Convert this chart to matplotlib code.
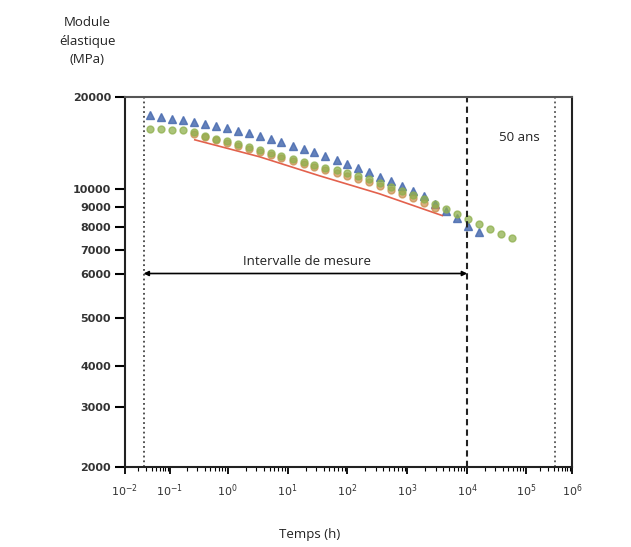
import numpy as np
import matplotlib
matplotlib.use("Agg")
import matplotlib.pyplot as plt
from matplotlib.ticker import FixedLocator, LogLocator, NullFormatter

# time (h) of each measurement point
t = [0.036, 0.063, 0.108, 0.167, 0.26, 0.40, 0.62, 0.96, 1.47, 2.24, 3.4, 5.2,
     7.9, 12.1, 18.5, 28, 43, 66, 100, 152, 233, 355, 541, 826, 1260, 1920,
     2930, 4470, 6810, 10400, 15800, 24500, 38000, 58000]

# elastic modulus (MPa)
blue = [17460, 17200, 16940, 16820, 16570, 16320, 16070, 15830, 15480, 15250,
        14910, 14570, 14250, 13830, 13520, 13210, 12820, 12440, 12070, 11710,
        11360, 10950, 10620, 10230, 9880, 9600, 9160, 8790, 8440, 8050, 7770]
green = [15720, 15720, 15600, 15600, 15360, 14910, 14570, 14360, 14040, 13720,
         13410, 13110, 12820, 12530, 12250, 11980, 11710, 11540, 11280, 11030,
         10780, 10460, 10150, 9884, 9655, 9431, 9160, 8895, 8637, 8386, 8143,
         7909, 7683, 7506]
orange = [15130, 14800, 14470, 14150, 13830, 13520, 13210, 12920, 12630, 12350,
          12070, 11800, 11540, 11280, 11030, 10780, 10540, 10230, 9942, 9711,
          9490, 9213, 8947]
fit_t = [0.27, 3.4, 34, 341, 3830]
fit_e = [14470, 12730, 11030, 9710, 8540]

t_start = 0.026      # start of measurement
t_end = 1e4          # end of measurement
t_50 = 438000        # 50 years

x_dec = [-2, -1, 0, 1, 2, 3, 4, 5, 6]
x_pos = [125, 170, 228, 288, 348, 408, 468, 527, 573]
y_ticks = [2000, 3000, 4000, 5000, 6000, 7000, 8000, 9000, 10000, 20000]
y_pos = [468, 408, 367, 319, 274, 250, 227, 207, 189, 97]


def xf(v):
    v = np.clip(np.asarray(v, dtype=float), 1e-12, None)
    return np.interp(np.log10(v), x_dec, x_pos)


def xi(p):
    return 10 ** np.interp(p, x_pos, x_dec)


ylog = np.log10(y_ticks)
ypx = -np.array(y_pos, dtype=float)


def yf(v):
    v = np.clip(np.asarray(v, dtype=float), 1e-12, None)
    return np.interp(np.log10(v), ylog, ypx)


def yi(p):
    return 10 ** np.interp(p, ypx, ylog)


fig = plt.figure(figsize=(6.31, 5.47), dpi=100)
ax = fig.add_axes([0.198, 0.1463, 0.7084, 0.6764])
ax.set_xscale('function', functions=(xf, xi))
ax.set_yscale('function', functions=(yf, yi))
ax.set_xlim(1e-2, 1e6)
ax.set_ylim(2000, 20000)

ax.plot(t[:len(blue)], blue, ls='none', marker='^', ms=6, color='#4a6cb0', alpha=0.85)
ax.plot(fit_t, fit_e, color='#e0503a', lw=1.2, alpha=0.9)
ax.plot(t[4:4 + len(orange)], orange, ls='none', marker='o', ms=5, color='#c98d4a', alpha=0.7)
ax.plot(t, green, ls='none', marker='o', ms=5, color='#8fb04e', alpha=0.75)

ax.axvline(t_start, color='#444444', ls=':', lw=1.3)
ax.axvline(t_end, color='#222222', ls=(0, (3, 2)), lw=1.5)
ax.axvline(t_50, color='#555555', ls=':', lw=1.3)

ax.annotate('', xy=(t_end, 6000), xytext=(t_start, 6000),
            arrowprops=dict(arrowstyle='<|-|>', color='black', lw=1.2, mutation_scale=7,
                            shrinkA=0, shrinkB=0))
ax.text(21.5, 6480, 'Intervalle de mesure', ha='center', va='center',
        fontsize=9.5, family='Open Sans', color='#222222')
ax.text(76000, 14690, '50 ans', ha='center', va='center',
        fontsize=9.5, family='Open Sans', color='#222222')

ax.xaxis.set_major_locator(FixedLocator([10.0 ** d for d in x_dec]))
ax.set_xticklabels(['$10^{%d}$' % d for d in x_dec], fontsize=8, color='#333333')
ax.xaxis.set_minor_locator(LogLocator(base=10, subs=np.arange(2, 10), numticks=20))
ax.xaxis.set_minor_formatter(NullFormatter())
ax.yaxis.set_major_locator(FixedLocator(y_ticks))
ax.set_yticklabels([str(v) for v in y_ticks], fontsize=8, fontweight='bold', color='#333333')
ax.yaxis.set_minor_locator(FixedLocator([]))
ax.tick_params(axis='y', which='major', direction='out', length=7, width=1.5, pad=3)
ax.tick_params(axis='x', which='major', direction='out', length=5, width=1.3, pad=6)
ax.tick_params(axis='x', which='minor', direction='out', length=3, width=0.8)

for s in ax.spines.values():
    s.set_linewidth(1.5)
    s.set_color('#222222')
ax.spines['top'].set_color('#555555')

fig.text(0.138, 0.925, 'Module\nélastique\n(MPa)', ha='center', va='center',
         fontsize=9.5, family='Open Sans', color='#222222', linespacing=1.55)
fig.text(0.491, 0.022, 'Temps (h)', ha='center', va='center',
         fontsize=9.5, family='Open Sans', color='#222222')

fig.savefig('out.png', dpi=100)
